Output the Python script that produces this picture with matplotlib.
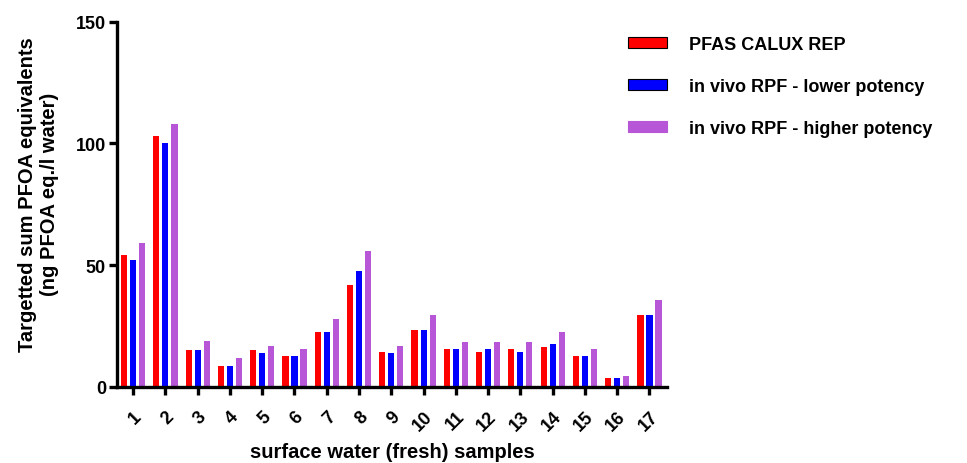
import numpy as np
import matplotlib.pyplot as plt
from matplotlib.patches import Patch

plt.rcParams['font.family'] = ['Liberation Sans', 'DejaVu Sans']
plt.rcParams['font.weight'] = 'bold'

samples = [str(i) for i in range(1, 18)]
calux = [54, 103, 15, 8.5, 15, 12.5, 22.5, 42, 14.5, 23.5, 15.5, 14.5, 15.5, 16.5, 12.5, 3.5, 29.5]
rpf_low = [52, 100, 15, 8.5, 14, 12.5, 22.5, 47.5, 14, 23.5, 15.5, 15.5, 14.5, 17.5, 12.5, 3.5, 29.5]
rpf_high = [59, 108, 19, 12, 17, 15.5, 28, 56, 17, 29.5, 18.5, 18.5, 18.5, 22.5, 15.5, 4.5, 35.5]

labels = ['PFAS CALUX REP', 'in vivo RPF - lower potency', 'in vivo RPF - higher potency']
colors = ['#ff0000', '#0000ff', '#b856d8']

fig = plt.figure(figsize=(9.67, 4.64), dpi=100)
ax = fig.add_axes([0.121, 0.164, 0.569, 0.787])

x = np.arange(1, len(samples) + 1)
w = 0.19
off = 0.28
ax.bar(x - off, calux, w, color=colors[0])
ax.bar(x, rpf_low, w, color=colors[1])
ax.bar(x + off, rpf_high, w, color=colors[2])

ax.set_xlim(0.5, 17.55)
ax.set_ylim(0, 150)
ax.set_yticks([0, 50, 100, 150])
ax.set_xticks(x)
ax.set_xticklabels(samples, rotation=45, ha='right', va='top', rotation_mode='anchor')

for s in ['top', 'right']:
    ax.spines[s].set_visible(False)
for s in ['left', 'bottom']:
    ax.spines[s].set_linewidth(2.4)
ax.tick_params(axis='both', width=2.4, length=6, labelsize=13)
ax.tick_params(axis='x', pad=9)
ax.tick_params(axis='y', pad=2)

ax.set_ylabel('Targetted sum PFOA equivalents\n(ng PFOA eq./l water)', fontsize=14.5, fontweight='bold')
ax.yaxis.set_label_coords(-0.105, 0.53)
ax.set_xlabel('surface water (fresh) samples', fontsize=14.5, fontweight='bold', va='top')
ax.xaxis.set_label_coords(0.5, -0.152)

handles = [
    Patch(facecolor=colors[0], edgecolor='black', linewidth=0.8),
    Patch(facecolor=colors[1], edgecolor='black', linewidth=0.8),
    Patch(facecolor=colors[2], edgecolor=colors[2], linewidth=0.8),
]
fig.legend(handles, labels, loc='upper left', bbox_to_anchor=(0.649, 0.92),
           frameon=False, handlelength=2.2, handleheight=0.55,
           handletextpad=1.2, labelspacing=1.38, borderpad=0, borderaxespad=0,
           prop={'weight': 'bold', 'size': 13})

fig.savefig('out.png', dpi=100)
